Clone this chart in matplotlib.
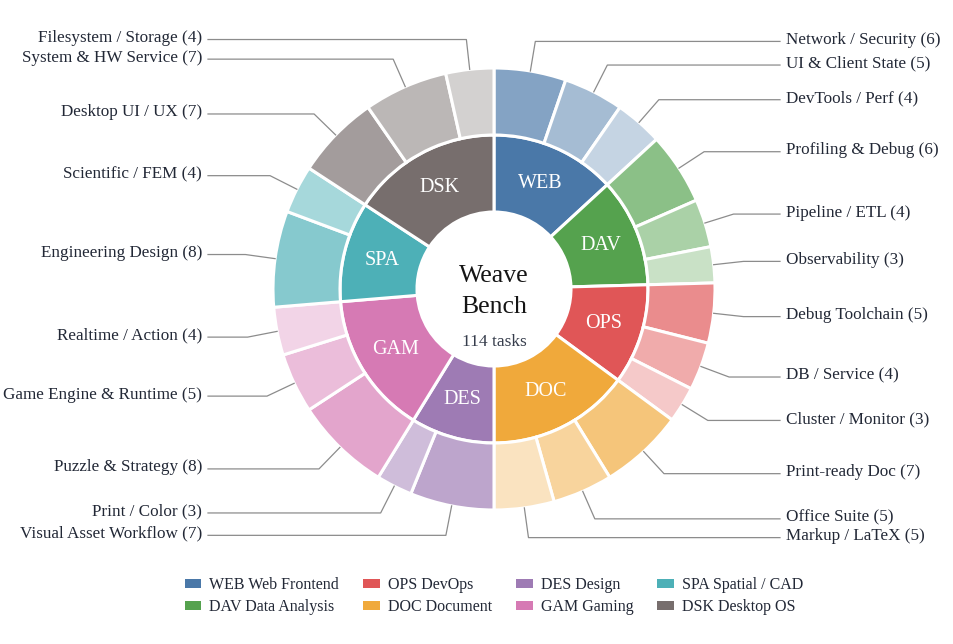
import numpy as np
import matplotlib.pyplot as plt
from matplotlib.colors import to_rgb
from matplotlib.patches import Patch

plt.rcParams['font.family'] = ['Liberation Serif', 'DejaVu Serif']

# inner ring: task groups
groups = ['WEB', 'DAV', 'OPS', 'DOC', 'DES', 'GAM', 'SPA', 'DSK']
group_names = ['Web Frontend', 'Data Analysis', 'DevOps', 'Document',
               'Design', 'Gaming', 'Spatial / CAD', 'Desktop OS']
group_colors = ['#4a78a8', '#55a24e', '#e05657', '#f0a93b',
                '#9e7bb4', '#d67ab4', '#4db0b7', '#776e6d']

# outer ring: sub categories (group index, label, count)
sub_group = [0, 0, 0, 1, 1, 1, 2, 2, 2, 3, 3, 3, 4, 4, 5, 5, 5, 6, 6, 7, 7, 7]
sub_labels = ['Network / Security', 'UI & Client State', 'DevTools / Perf',
              'Profiling & Debug', 'Pipeline / ETL', 'Observability',
              'Debug Toolchain', 'DB / Service', 'Cluster / Monitor',
              'Print-ready Doc', 'Office Suite', 'Markup / LaTeX',
              'Visual Asset Workflow', 'Print / Color',
              'Puzzle & Strategy', 'Game Engine & Runtime', 'Realtime / Action',
              'Engineering Design', 'Scientific / FEM',
              'Desktop UI / UX', 'System & HW Service', 'Filesystem / Storage']
sub_counts = [6, 5, 4, 6, 4, 3, 5, 4, 3, 7, 5, 5, 7, 3, 8, 5, 4, 8, 4, 7, 7, 4]

group_counts = [sum(c for g, c in zip(sub_group, sub_counts) if g == i)
                for i in range(len(groups))]
total = sum(sub_counts)

# lighter shades for the children of each group
shade = [0.68, 0.5, 0.32]
sub_colors = []
for i, g in enumerate(sub_group):
    k = sub_group[:i].count(g)
    base = np.array(to_rgb(group_colors[g]))
    sub_colors.append(tuple(shade[k] * base + (1 - shade[k])))

W, H = 954, 644
fig = plt.figure(figsize=(W / 100, H / 100), dpi=100)
ax = fig.add_axes([0, 0, 1, 1])

cx, cy = 494, H - 289
edge = dict(edgecolor='white', linewidth=2.2)

inner, _ = ax.pie(group_counts, radius=154, center=(cx, cy), startangle=90,
                  counterclock=False, colors=group_colors,
                  wedgeprops=dict(width=77, **edge))
outer, _ = ax.pie(sub_counts, radius=221, center=(cx, cy), startangle=90,
                  counterclock=False, colors=sub_colors,
                  wedgeprops=dict(width=67, **edge))

ax.set_xlim(0, W)
ax.set_ylim(0, H)
ax.axis('off')

text_col = '#222836'

# group codes on inner ring
for w, code in zip(inner, groups):
    a = np.deg2rad((w.theta1 + w.theta2) / 2)
    ax.text(cx + 115 * np.cos(a), cy + 115 * np.sin(a), code, color='white',
            fontsize=14.5, ha='center', va='center')

# outer labels with leader lines
for w, lab, c in zip(outer, sub_labels, sub_counts):
    a = np.deg2rad((w.theta1 + w.theta2) / 2)
    x0, y0 = cx + 221 * np.cos(a), cy + 221 * np.sin(a)
    x1, y1 = cx + 251 * np.cos(a), cy + 251 * np.sin(a)
    right = np.cos(a) >= 0
    x2 = 780 if right else 208
    ax.plot([x0, x1, x2], [y0, y1, y1], color='#8c8c8c', lw=0.9)
    ax.text(786 if right else 202, y1 + 1.5, f'{lab} ({c})', color=text_col,
            fontsize=12.3, ha='left' if right else 'right', va='center')

# centre title
ax.text(cx, H - 282, 'Weave', fontsize=18.5, color='#151515', ha='center', va='baseline')
ax.text(cx, H - 313, 'Bench', fontsize=18.5, color='#151515', ha='center', va='baseline')
ax.text(cx, H - 346, f'{total} tasks', fontsize=12.5, color='#363d4c', ha='center', va='baseline')

handles = [Patch(facecolor=c, edgecolor='none', label=f'{g} {n}')
           for g, n, c in zip(groups, group_names, group_colors)]
fig.legend(handles=handles, loc='center', bbox_to_anchor=(494 / W, 1 - 596 / H),
           ncol=4, frameon=False, fontsize=11.5, handlelength=1.05, handleheight=0.5,
           handletextpad=0.5, columnspacing=1.5, labelspacing=0.4)
for t in fig.legends[0].get_texts():
    t.set_color(text_col)

fig.savefig('out.png', dpi=100)
